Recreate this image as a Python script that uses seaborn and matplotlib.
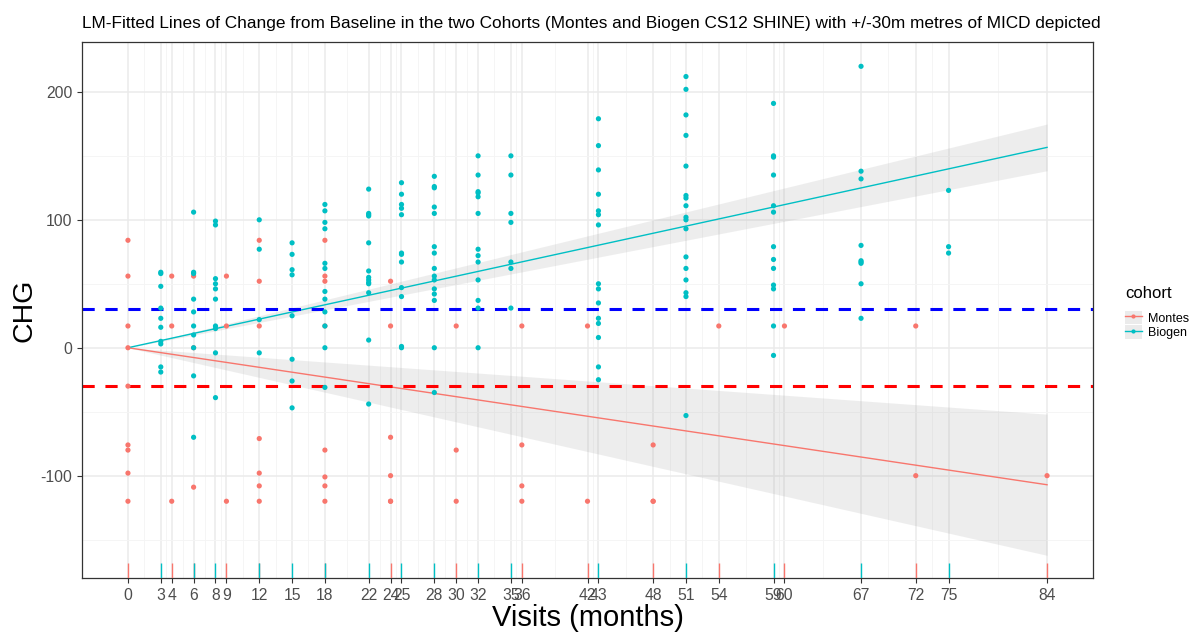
import numpy as np
import pandas as pd
import matplotlib
matplotlib.use("Agg")
import matplotlib.pyplot as plt
import seaborn as sns
from matplotlib.lines import Line2D
from matplotlib.patches import Patch

# Change from baseline (CHG) per visit month
# Montes cohort (last two -120 entries: overlapping points hidden under others)
montes = {
    0: [84, 56, 17, 0, -30, -76, -80, -98, -120],
    4: [56, 17, -120],
    6: [56, 0, -109],
    9: [56, 17, -120],
    12: [84, 52, 17, -71, -98, -108, -120],
    18: [84, 56, 52, 17, -80, -101, -108, -120],
    24: [52, 17, -70, -100, -120, -120],
    30: [17, -80, -120],
    36: [17, -76, -108, -120],
    42: [17, -120],
    48: [-76, -120, -120],
    54: [17],
    60: [17],
    72: [17, -100],
    84: [-100],
}

# Biogen CS12 SHINE cohort
biogen = {
    3: [59, 58, 48, 31, 23, 16, 5, 3, -15, -19],
    6: [106, 59, 58, 38, 28, 17, 10, 0, -22, -70],
    8: [99, 96, 54, 50, 46, 38, 17, 15, -4, -39],
    12: [100, 77, 22, -4],
    15: [82, 73, 61, 57, 25, -9, -26, -47],
    18: [112, 107, 98, 93, 66, 62, 44, 38, 28, 17, 0, -31],
    22: [124, 105, 104, 103, 82, 60, 55, 53, 51, 50, 43, 6, -44],
    25: [129, 120, 112, 109, 104, 74, 73, 67, 47, 40, 1, 0],
    28: [134, 126, 125, 110, 105, 79, 74, 62, 56, 53, 46, 42, 37, 0, -35],
    32: [150, 135, 122, 121, 118, 105, 77, 72, 67, 53, 37, 31, 0],
    35: [150, 135, 105, 98, 67, 62, 31],
    43: [179, 158, 139, 120, 107, 104, 96, 50, 46, 35, 23, 19, 8, -15, -25],
    51: [212, 202, 182, 166, 142, 119, 117, 111, 102, 100, 93, 71, 62, 53, 43, 40, -53],
    59: [191, 150, 149, 135, 111, 106, 79, 69, 62, 49, 46, 17, -6],
    67: [220, 138, 132, 80, 68, 67, 66, 50, 23],
    75: [123, 79, 74],
}

micd = 30
palette = {"Montes": "#F8766D", "Biogen": "#00BFC4"}

rows = []
for name, d in [("Montes", montes), ("Biogen", biogen)]:
    for v, vals in d.items():
        for c in vals:
            rows.append((name, v, c))
df = pd.DataFrame(rows, columns=["cohort", "visit", "chg"])

breaks = sorted(df["visit"].unique())

plt.rcParams["axes.unicode_minus"] = False
plt.rcParams["font.family"] = ["Liberation Sans", "DejaVu Sans"]
fig = plt.figure(figsize=(11.95, 6.35), dpi=100)
ax = fig.add_axes([82 / 1195, 1 - 578 / 635, (1093 - 82) / 1195, (578 - 42) / 635])
ax.set_facecolor("white")

# grid: major at breaks, minor in between
for b in breaks:
    ax.axvline(b, color="#EBEBEB", lw=1.1, zorder=0)
for m in (np.array(breaks[:-1]) + np.array(breaks[1:])) / 2:
    ax.axvline(m, color="#F4F4F4", lw=0.6, zorder=0)
for y in [-100, 0, 100, 200]:
    ax.axhline(y, color="#EBEBEB", lw=1.1, zorder=0)
for y in [-150, -50, 50, 150]:
    ax.axhline(y, color="#F4F4F4", lw=0.6, zorder=0)

# linear fit through the origin (y ~ x - 1) with 95% band
xs = np.linspace(0, 84, 100)
for name in ["Montes", "Biogen"]:
    sub = df[df["cohort"] == name]
    x = sub["visit"].to_numpy(float)
    y = sub["chg"].to_numpy(float)
    sxx = np.sum(x * x)
    slope = np.sum(x * y) / sxx
    dof = len(x) - 1
    s = np.sqrt(np.sum((y - slope * x) ** 2) / dof)
    tq = 1.96 + 2.4 / dof
    half = tq * s * xs / np.sqrt(sxx)
    ax.fill_between(xs, slope * xs - half, slope * xs + half, color="#999999",
                    alpha=0.17, lw=0, zorder=1)
    ax.plot(xs, slope * xs, color=palette[name], lw=1.0, zorder=2)

ax.axhline(micd, color="blue", lw=2.2, ls=(0, (4, 3.5)), zorder=2.5)
ax.axhline(-micd, color="red", lw=2.2, ls=(0, (4, 3.5)), zorder=2.5)

sns.scatterplot(data=df, x="visit", y="chg", hue="cohort", palette=palette,
                s=14, linewidth=0, legend=False, ax=ax, zorder=3)
# rug ticks along the bottom, one call per cohort (Biogen drawn on top)
for name in ["Montes", "Biogen"]:
    visits = df.loc[df["cohort"] == name, "visit"].drop_duplicates()
    sns.rugplot(x=visits, color=palette[name], height=0.028, linewidth=1.0,
                ax=ax, zorder=3)

ax.set_xlim(-4.2, 88.2)
ax.set_ylim(-180, 239)
ax.set_xticks(breaks)
ax.set_xticklabels([str(b) for b in breaks])
ax.set_yticks([-100, 0, 100, 200])
ax.tick_params(axis="both", labelsize=11.3, colors="#333333", labelcolor="#4D4D4D",
               length=3.5, width=0.8)
for sp in ax.spines.values():
    sp.set_color("#333333")
    sp.set_linewidth(0.9)

ax.set_xlabel("Visits (months)", fontsize=21, labelpad=1)
ax.set_ylabel("CHG", fontsize=20.5, labelpad=2)
ax.set_title("LM-Fitted Lines of Change from Baseline in the two Cohorts (Montes and "
             "Biogen CS12 SHINE) with +/-30m metres of MICD depicted",
             loc="left", fontsize=12.4, pad=10)

handles = [(Patch(facecolor="#EBEBEB", edgecolor="none"),
            Line2D([], [], color=palette[n], lw=1.0, marker="o", ms=3, mew=0))
           for n in ["Montes", "Biogen"]]
leg = ax.legend(handles, ["Montes", "Biogen"], title="cohort", loc="center left",
                bbox_to_anchor=(1.027, 0.495), frameon=False, fontsize=9,
                title_fontsize=12, handlelength=1.3, handleheight=1.3,
                handletextpad=0.5, labelspacing=0.05, borderaxespad=0)
leg._legend_box.align = "left"
leg._legend_box.sep = 7

fig.savefig("out.png", dpi=100)
